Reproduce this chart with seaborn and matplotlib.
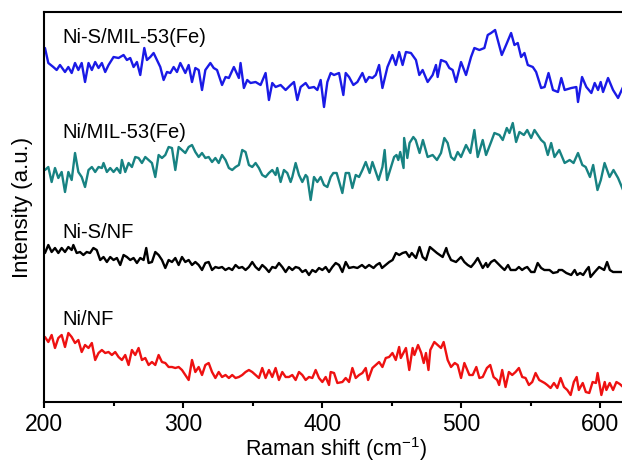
import matplotlib
matplotlib.use("Agg")
import matplotlib.pyplot as plt
import pandas as pd
import seaborn as sns
from matplotlib.ticker import MultipleLocator

# Ni-S/MIL-53(Fe)
nis_mil_x = [200.7, 203.1, 206.7, 209.1, 211.5, 215.1, 217.5, 219.9, 222.3, 224.7,
             227.1, 229.5, 232.0, 234.4, 236.8, 239.2, 241.6, 244.0, 246.4, 250.0,
             253.6, 257.2, 259.6, 262.0, 264.4, 266.8, 269.2, 272.1, 274.0, 276.4,
             278.8, 281.2, 283.6, 286.0, 288.4, 290.8, 293.2, 295.6, 298.0, 301.6,
             304.0, 306.4, 308.8, 311.2, 313.6, 316.0, 319.6, 322.0, 324.4, 328.0,
             330.5, 332.9, 336.5, 340.1, 341.3, 343.7, 346.1, 348.5, 352.1, 355.7,
             359.3, 361.7, 364.1, 366.5, 370.1, 373.7, 377.3, 379.7, 382.1, 384.5,
             388.1, 390.5, 394.1, 396.5, 398.9, 401.3, 403.7, 406.1, 408.5, 412.1,
             415.2, 416.9, 419.3, 422.4, 425.3, 428.9, 431.3, 433.7, 436.1, 438.5,
             440.9, 443.3, 446.9, 450.5, 452.9, 455.3, 457.8, 460.2, 463.8, 467.4,
             469.8, 472.2, 475.8, 479.4, 481.8, 483.0, 485.4, 489.0, 491.4, 493.8,
             496.2, 499.8, 503.4, 507.0, 509.4, 513.0, 516.6, 519.0, 521.4, 524.3,
             526.2, 529.1, 532.2, 535.8, 538.2, 540.6, 543.0, 545.4, 547.8, 551.4,
             553.8, 557.4, 559.9, 562.7, 565.9, 569.5, 571.9, 574.3, 579.1, 582.7,
             583.9, 586.8, 589.9, 593.5, 595.9, 598.3, 600.2, 601.9, 605.5, 609.1,
             612.7, 616.3]
nis_mil_y = [354, 339, 335, 332, 337, 330, 335, 329, 339, 332,
             339, 320, 339, 332, 340, 334, 339, 330, 337, 345,
             344, 347, 342, 344, 335, 340, 327, 354, 342, 345,
             349, 342, 335, 322, 330, 329, 335, 330, 339, 329,
             337, 320, 334, 332, 312, 332, 339, 334, 332, 317,
             325, 324, 335, 324, 339, 314, 322, 319, 320, 317,
             329, 302, 319, 315, 317, 312, 317, 320, 302, 315,
             319, 314, 315, 312, 322, 295, 320, 329, 327, 329,
             307, 329, 325, 317, 320, 329, 320, 325, 324, 327,
             337, 314, 335, 347, 337, 350, 337, 350, 349, 342,
             327, 332, 320, 327, 337, 325, 342, 340, 334, 332,
             320, 340, 327, 345, 354, 352, 354, 367, 369, 372,
             362, 347, 357, 369, 357, 359, 345, 349, 337, 335,
             330, 314, 315, 329, 312, 310, 324, 312, 314, 315,
             300, 325, 315, 309, 319, 312, 320, 310, 324, 312,
             304, 315]

# Ni/MIL-53(Fe)
ni_mil_x = [200.7, 203.1, 205.5, 207.9, 210.3, 212.7, 215.1, 217.5, 219.9, 222.3,
            224.7, 227.1, 229.5, 232.0, 234.4, 236.8, 239.2, 241.6, 242.8, 245.2,
            247.6, 250.0, 252.4, 254.8, 256.0, 258.4, 260.8, 263.2, 265.6, 268.0,
            270.4, 272.8, 275.2, 277.6, 280.0, 282.4, 284.8, 287.2, 289.6, 292.0,
            294.4, 296.8, 299.2, 301.6, 304.0, 306.4, 308.8, 311.2, 313.6, 316.0,
            318.4, 320.8, 323.2, 325.6, 328.0, 330.5, 332.9, 335.3, 337.7, 340.1,
            342.5, 344.9, 347.3, 349.7, 352.1, 354.5, 356.9, 359.3, 361.7, 364.1,
            366.5, 367.7, 370.1, 372.5, 374.9, 377.3, 378.5, 380.9, 383.3, 385.7,
            388.1, 389.3, 391.7, 394.1, 396.5, 398.9, 401.3, 403.7, 406.1, 408.0,
            410.4, 414.5, 416.9, 419.3, 421.7, 424.1, 426.5, 428.9, 431.3, 434.1,
            436.1, 440.5, 443.3, 444.9, 446.6, 451.7, 453.4, 454.7, 456.1, 458.5,
            458.9, 461.2, 462.8, 465.5, 467.2, 470.0, 472.4, 475.8, 479.4, 482.5,
            485.4, 487.8, 490.2, 492.6, 495.0, 497.4, 499.8, 503.4, 506.5, 509.4,
            511.8, 515.4, 517.8, 521.4, 523.8, 527.4, 529.8, 532.7, 534.6, 537.0,
            539.4, 541.8, 545.0, 547.4, 550.2, 552.6, 555.0, 557.4, 559.8, 562.2,
            564.6, 567.0, 570.4, 574.3, 577.9, 580.7, 583.9, 587.0, 589.4, 592.5,
            594.8, 597.9, 600.3, 603.0, 606.6, 609.4, 612.7, 616.3]
ni_mil_y = [232, 235, 220, 234, 224, 230, 210, 230, 222, 249,
            230, 225, 215, 232, 235, 230, 235, 234, 239, 230,
            234, 230, 234, 229, 242, 230, 239, 235, 245, 244,
            239, 245, 242, 239, 225, 247, 244, 247, 255, 254,
            232, 255, 252, 249, 255, 257, 250, 245, 249, 244,
            245, 240, 244, 239, 247, 242, 234, 232, 235, 237,
            252, 250, 237, 235, 239, 234, 227, 225, 229, 232,
            227, 234, 220, 232, 229, 220, 225, 239, 227, 220,
            227, 225, 202, 225, 220, 225, 217, 215, 225, 229,
            229, 209, 229, 229, 214, 227, 225, 232, 240, 229,
            240, 222, 235, 252, 222, 245, 247, 242, 250, 234,
            264, 244, 259, 265, 262, 249, 262, 245, 247, 242,
            249, 264, 259, 245, 242, 250, 245, 257, 249, 272,
            245, 262, 247, 260, 269, 267, 262, 274, 269, 279,
            260, 270, 267, 272, 264, 272, 267, 262, 259, 247,
            259, 245, 252, 239, 242, 239, 249, 237, 235, 225,
            237, 212, 222, 239, 225, 232, 224, 212]

# Ni-S/NF
nis_nf_x = [200.7, 203.1, 205.5, 207.9, 210.3, 212.7, 215.1, 217.5, 219.9, 221.1,
            223.5, 225.9, 228.3, 230.7, 233.1, 235.5, 237.9, 240.4, 242.8, 245.2,
            247.6, 250.0, 252.4, 254.8, 257.2, 259.6, 262.0, 264.4, 266.8, 269.2,
            271.6, 273.5, 275.2, 277.6, 280.0, 282.4, 284.8, 287.2, 289.6, 292.0,
            294.4, 296.8, 299.2, 301.6, 304.0, 306.4, 308.8, 311.2, 313.6, 316.0,
            318.4, 320.8, 323.2, 325.6, 328.0, 330.4, 332.9, 335.3, 337.7, 340.1,
            342.5, 344.9, 347.3, 349.7, 352.1, 354.5, 356.9, 359.3, 361.7, 364.1,
            366.5, 368.9, 371.3, 373.7, 376.1, 378.5, 380.9, 383.3, 385.7, 388.1,
            390.5, 392.9, 395.3, 397.7, 400.1, 402.5, 404.9, 407.3, 409.7, 412.1,
            414.5, 416.9, 419.3, 422.5, 425.3, 428.6, 431.0, 433.7, 436.9, 439.0,
            441.3, 443.0, 448.2, 450.6, 453.0, 455.4, 457.8, 460.2, 462.6, 464.4,
            467.4, 470.0, 472.2, 474.6, 477.4, 480.0, 482.5, 486.6, 489.2, 490.2,
            492.6, 496.2, 499.8, 502.2, 504.6, 507.0, 509.4, 511.8, 515.4, 517.8,
            518.9, 521.4, 523.8, 528.8, 531.1, 533.6, 535.5, 539.1, 541.4, 543.7,
            545.7, 547.4, 550.2, 552.6, 554.9, 557.4, 559.7, 563.4, 566.0, 569.3,
            570.1, 572.5, 575.5, 579.0, 581.5, 583.3, 585.4, 587.6, 589.9, 591.6,
            592.9, 595.9, 599.1, 602.7, 604.8, 606.8, 609.1, 616.3]
nis_nf_y = [149, 157, 150, 154, 149, 154, 150, 155, 152, 157,
            149, 150, 147, 150, 149, 154, 152, 142, 145, 140,
            145, 142, 144, 137, 147, 145, 142, 144, 139, 144,
            142, 154, 139, 140, 150, 147, 142, 134, 142, 140,
            144, 137, 145, 140, 142, 137, 140, 137, 132, 139,
            140, 132, 135, 134, 135, 132, 134, 132, 137, 134,
            135, 132, 135, 140, 135, 132, 137, 134, 130, 135,
            134, 139, 135, 130, 135, 132, 135, 134, 130, 132,
            127, 132, 130, 134, 132, 135, 130, 135, 139, 137,
            130, 140, 134, 135, 134, 137, 134, 137, 134, 137,
            139, 134, 140, 142, 149, 147, 149, 150, 145, 149,
            144, 155, 145, 142, 155, 152, 149, 145, 154, 149,
            142, 140, 145, 140, 137, 135, 139, 144, 134, 139,
            135, 140, 142, 135, 132, 137, 132, 132, 135, 132,
            134, 135, 130, 130, 139, 134, 132, 132, 129, 130,
            132, 132, 129, 127, 132, 127, 129, 127, 132, 135,
            125, 130, 135, 132, 140, 132, 130, 130]

# Ni/NF
ni_nf_x = [200.7, 203.1, 205.5, 207.9, 210.3, 212.7, 215.1, 217.5, 219.9, 222.3,
           224.7, 227.1, 229.5, 232.0, 234.4, 236.8, 239.2, 241.6, 244.0, 246.4,
           248.8, 251.2, 253.6, 256.0, 258.4, 260.8, 263.2, 265.6, 268.0, 270.4,
           272.8, 275.2, 277.6, 280.0, 282.4, 284.8, 287.2, 289.6, 292.0, 294.4,
           296.8, 299.2, 301.6, 304.0, 306.4, 308.8, 311.2, 313.6, 316.0, 318.4,
           320.8, 323.2, 325.6, 328.0, 330.5, 332.9, 335.3, 337.7, 340.1, 342.5,
           344.9, 347.3, 349.7, 352.1, 354.5, 356.9, 359.3, 361.7, 364.1, 366.5,
           368.9, 371.3, 373.7, 376.1, 378.5, 380.9, 383.3, 385.7, 388.1, 390.5,
           392.9, 395.3, 397.7, 400.1, 402.5, 404.9, 406.1, 408.5, 410.9, 414.5,
           416.9, 419.3, 421.7, 424.1, 426.5, 428.9, 431.3, 433.0, 436.1, 438.5,
           440.9, 443.3, 445.7, 448.1, 450.5, 452.9, 455.3, 456.5, 460.2, 462.6,
           465.0, 466.3, 468.9, 471.2, 473.0, 474.6, 476.4, 477.7, 480.6, 483.0,
           485.4, 487.3, 490.2, 492.6, 495.3, 497.4, 499.8, 502.2, 505.8, 508.2,
           510.8, 513.0, 515.4, 518.4, 520.8, 523.2, 525.8, 527.2, 529.4, 531.8,
           534.2, 536.6, 539.0, 541.4, 543.8, 546.2, 548.6, 551.0, 553.4, 556.0,
           559.9, 561.8, 564.2, 566.6, 569.0, 571.4, 573.8, 576.2, 578.6, 580.9,
           582.9, 584.5, 587.3, 589.5, 592.0, 594.4, 596.8, 598.0, 600.7, 603.1,
           604.3, 606.7, 609.1, 611.5, 613.9, 616.3]
ni_nf_y = [65, 60, 67, 54, 64, 67, 55, 69, 65, 59,
           62, 50, 57, 54, 59, 42, 49, 52, 49, 50,
           47, 50, 45, 42, 47, 37, 52, 47, 54, 42,
           44, 37, 40, 37, 47, 40, 39, 35, 35, 34,
           35, 32, 27, 22, 42, 30, 35, 27, 37, 39,
           30, 24, 30, 25, 27, 24, 27, 24, 25, 27,
           30, 32, 30, 27, 24, 34, 24, 32, 25, 34,
           22, 30, 25, 25, 27, 22, 30, 27, 22, 25,
           24, 32, 24, 20, 25, 17, 30, 29, 19, 20,
           24, 20, 34, 24, 27, 29, 34, 22, 34, 37,
           40, 35, 44, 45, 49, 42, 55, 44, 54, 32,
           54, 47, 57, 49, 39, 49, 32, 52, 60, 57,
           54, 60, 42, 35, 39, 37, 24, 39, 27, 27,
           35, 24, 25, 34, 37, 25, 22, 17, 32, 15,
           30, 27, 30, 34, 25, 24, 17, 20, 29, 22,
           19, 17, 14, 19, 14, 24, 15, 12, 7, 20,
           25, 12, 19, 10, 9, 20, 19, 29, 7, 20,
           12, 19, 12, 20, 18, 15]

series = [
    ("Ni-S/MIL-53(Fe)", nis_mil_x, nis_mil_y, "#1a1ae6"),
    ("Ni/MIL-53(Fe)", ni_mil_x, ni_mil_y, "#178282"),
    ("Ni-S/NF", nis_nf_x, nis_nf_y, "#000000"),
    ("Ni/NF", ni_nf_x, ni_nf_y, "#ee1111"),
]
label_y = [359, 264, 164, 77]

sns.set_style("ticks")
plt.rcParams["font.family"] = ["Liberation Sans", "DejaVu Sans"]
plt.rcParams["mathtext.fontset"] = "custom"
plt.rcParams["mathtext.rm"] = "Liberation Sans"
plt.rcParams["mathtext.it"] = "Liberation Sans"
plt.rcParams["text.color"] = "black"
plt.rcParams["axes.labelcolor"] = "black"
plt.rcParams["xtick.color"] = "black"

fig = plt.figure(figsize=(6.22, 4.65), dpi=100)
ax = fig.add_axes([44 / 622, 63 / 465, 1 - 44 / 622 + 0.01, (402 - 12) / 465])

for (name, xs, ys, color), ly in zip(series, label_y):
    df = pd.DataFrame({"shift": xs, "intensity": ys})
    sns.lineplot(data=df, x="shift", y="intensity", color=color, linewidth=1.7,
                 ax=ax, estimator=None, sort=False)
    ax.text(213.5, ly, name, fontsize=14.5, va="baseline", ha="left", color="black")

ax.set_xlim(200, 620)
ax.set_ylim(0, 390)
ax.set_yticks([])
ax.xaxis.set_major_locator(MultipleLocator(100))
ax.xaxis.set_minor_locator(MultipleLocator(50))
ax.tick_params(axis="x", which="major", direction="out", length=4, width=1.5,
               labelsize=16.5, pad=4, colors="black")
ax.tick_params(axis="x", which="minor", direction="out", length=3, width=1.5)
for s in ax.spines.values():
    s.set_linewidth(1.5)
    s.set_color("black")
ax.set_xlabel("Raman shift (cm$^{\\mathregular{-1}}$)", fontsize=15.5, labelpad=-1)
ax.set_ylabel("Intensity (a.u.)", fontsize=16, labelpad=8)

fig.savefig("out.png", dpi=100)
